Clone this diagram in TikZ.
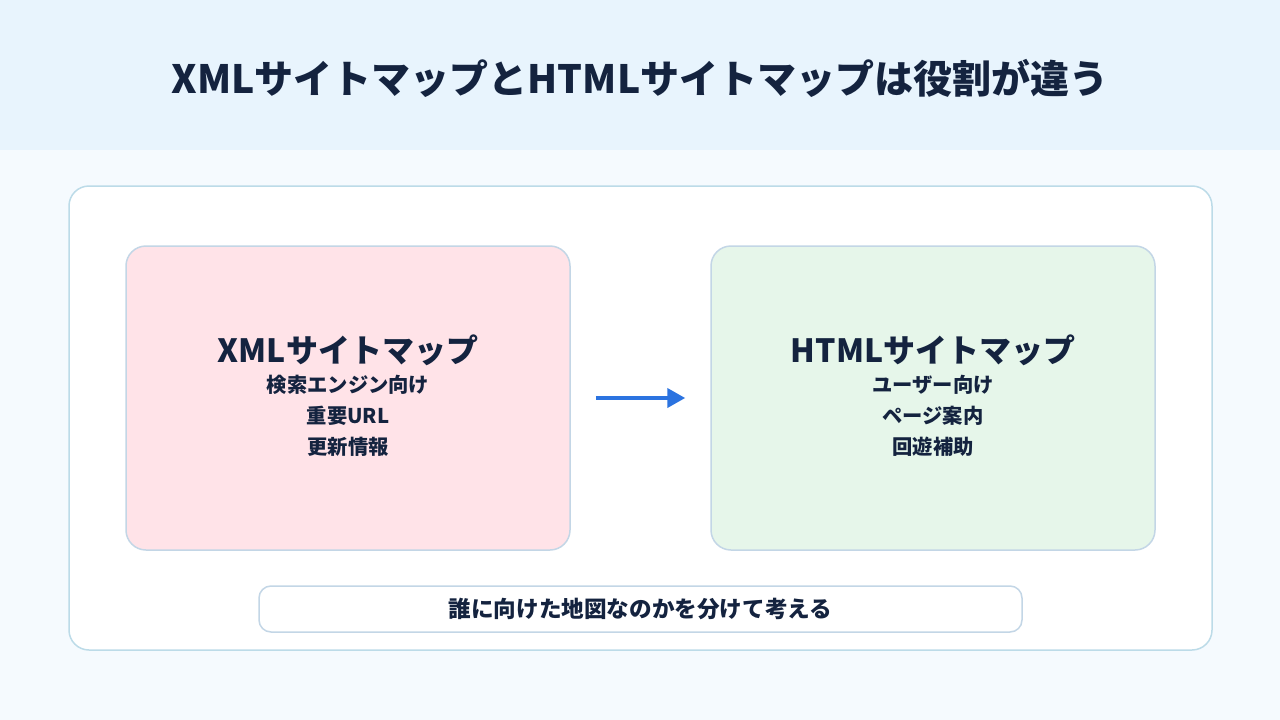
\documentclass[tikz,border=0pt]{standalone}
\usepackage{fontspec}
\setmainfont{Noto Sans CJK JP}
\usetikzlibrary{arrows.meta}
\definecolor{ink}{HTML}{14233F}
\definecolor{headbg}{HTML}{E8F4FD}
\definecolor{pagebg}{HTML}{F5FAFE}
\definecolor{cardline}{HTML}{BCDBE8}
\definecolor{boxline}{HTML}{C3D6E6}
\definecolor{xmlfill}{HTML}{FFE3E8}
\definecolor{htmlfill}{HTML}{E6F6EA}
\definecolor{arrowblue}{HTML}{2B73E0}
\begin{document}
\begin{tikzpicture}[x=1pt, y=-1pt,
  card/.style={draw=cardline, line width=1.5pt, fill=white, rounded corners=20pt},
  mapbox/.style={draw=boxline, line width=1.5pt, rounded corners=20pt,
                 minimum width=444pt, minimum height=304pt, inner sep=0pt},
  maptitle/.style={font=\bfseries\fontsize{32}{36}\selectfont, text=ink, inner sep=0pt},
  mapitem/.style={font=\bfseries\fontsize{20.3}{24}\selectfont, text=ink, inner sep=0pt},
  pill/.style={draw=boxline, line width=1.5pt, fill=white, rounded corners=12pt,
               minimum width=763pt, minimum height=46pt, inner sep=0pt,
               font=\bfseries\fontsize{22.6}{26}\selectfont, text=ink},
]
\useasboundingbox (0,0) rectangle (1280,720);
% background
\fill[pagebg] (0,0) rectangle (1280,720);
\fill[headbg] (0,0) rectangle (1280,150);
\node[font=\bfseries\fontsize{39}{44}\selectfont, text=ink, inner sep=0pt] (title) at (640,78)
  {XMLサイトマップとHTMLサイトマップは役割が違う};

\draw[card] (69,186) rectangle (1212,650);

\node[mapbox, fill=xmlfill]  (xml)  at (348,398) {};
\node[mapbox, fill=htmlfill] (html) at (933,398) {};

\node[maptitle] (xmlt) at (348,350) {XMLサイトマップ};
\node[mapitem]  (xml1) at (348,385) {検索エンジン向け};
\node[mapitem]  (xml2) at (348,416) {重要URL};
\node[mapitem]  (xml3) at (348,447) {更新情報};

\node[maptitle] (htmlt) at (933,350) {HTMLサイトマップ};
\node[mapitem]  (html1) at (933,385) {ユーザー向け};
\node[mapitem]  (html2) at (933,416) {ページ案内};
\node[mapitem]  (html3) at (933,447) {回遊補助};

\draw[arrowblue, line width=4pt, shorten <=25pt, shorten >=25pt,
      -{Triangle[length=18pt, width=19pt]}] (xml.east) -- (html.west);

\node[pill] (note) at (640.5,609) {誰に向けた地図なのかを分けて考える};
\end{tikzpicture}
\end{document}
